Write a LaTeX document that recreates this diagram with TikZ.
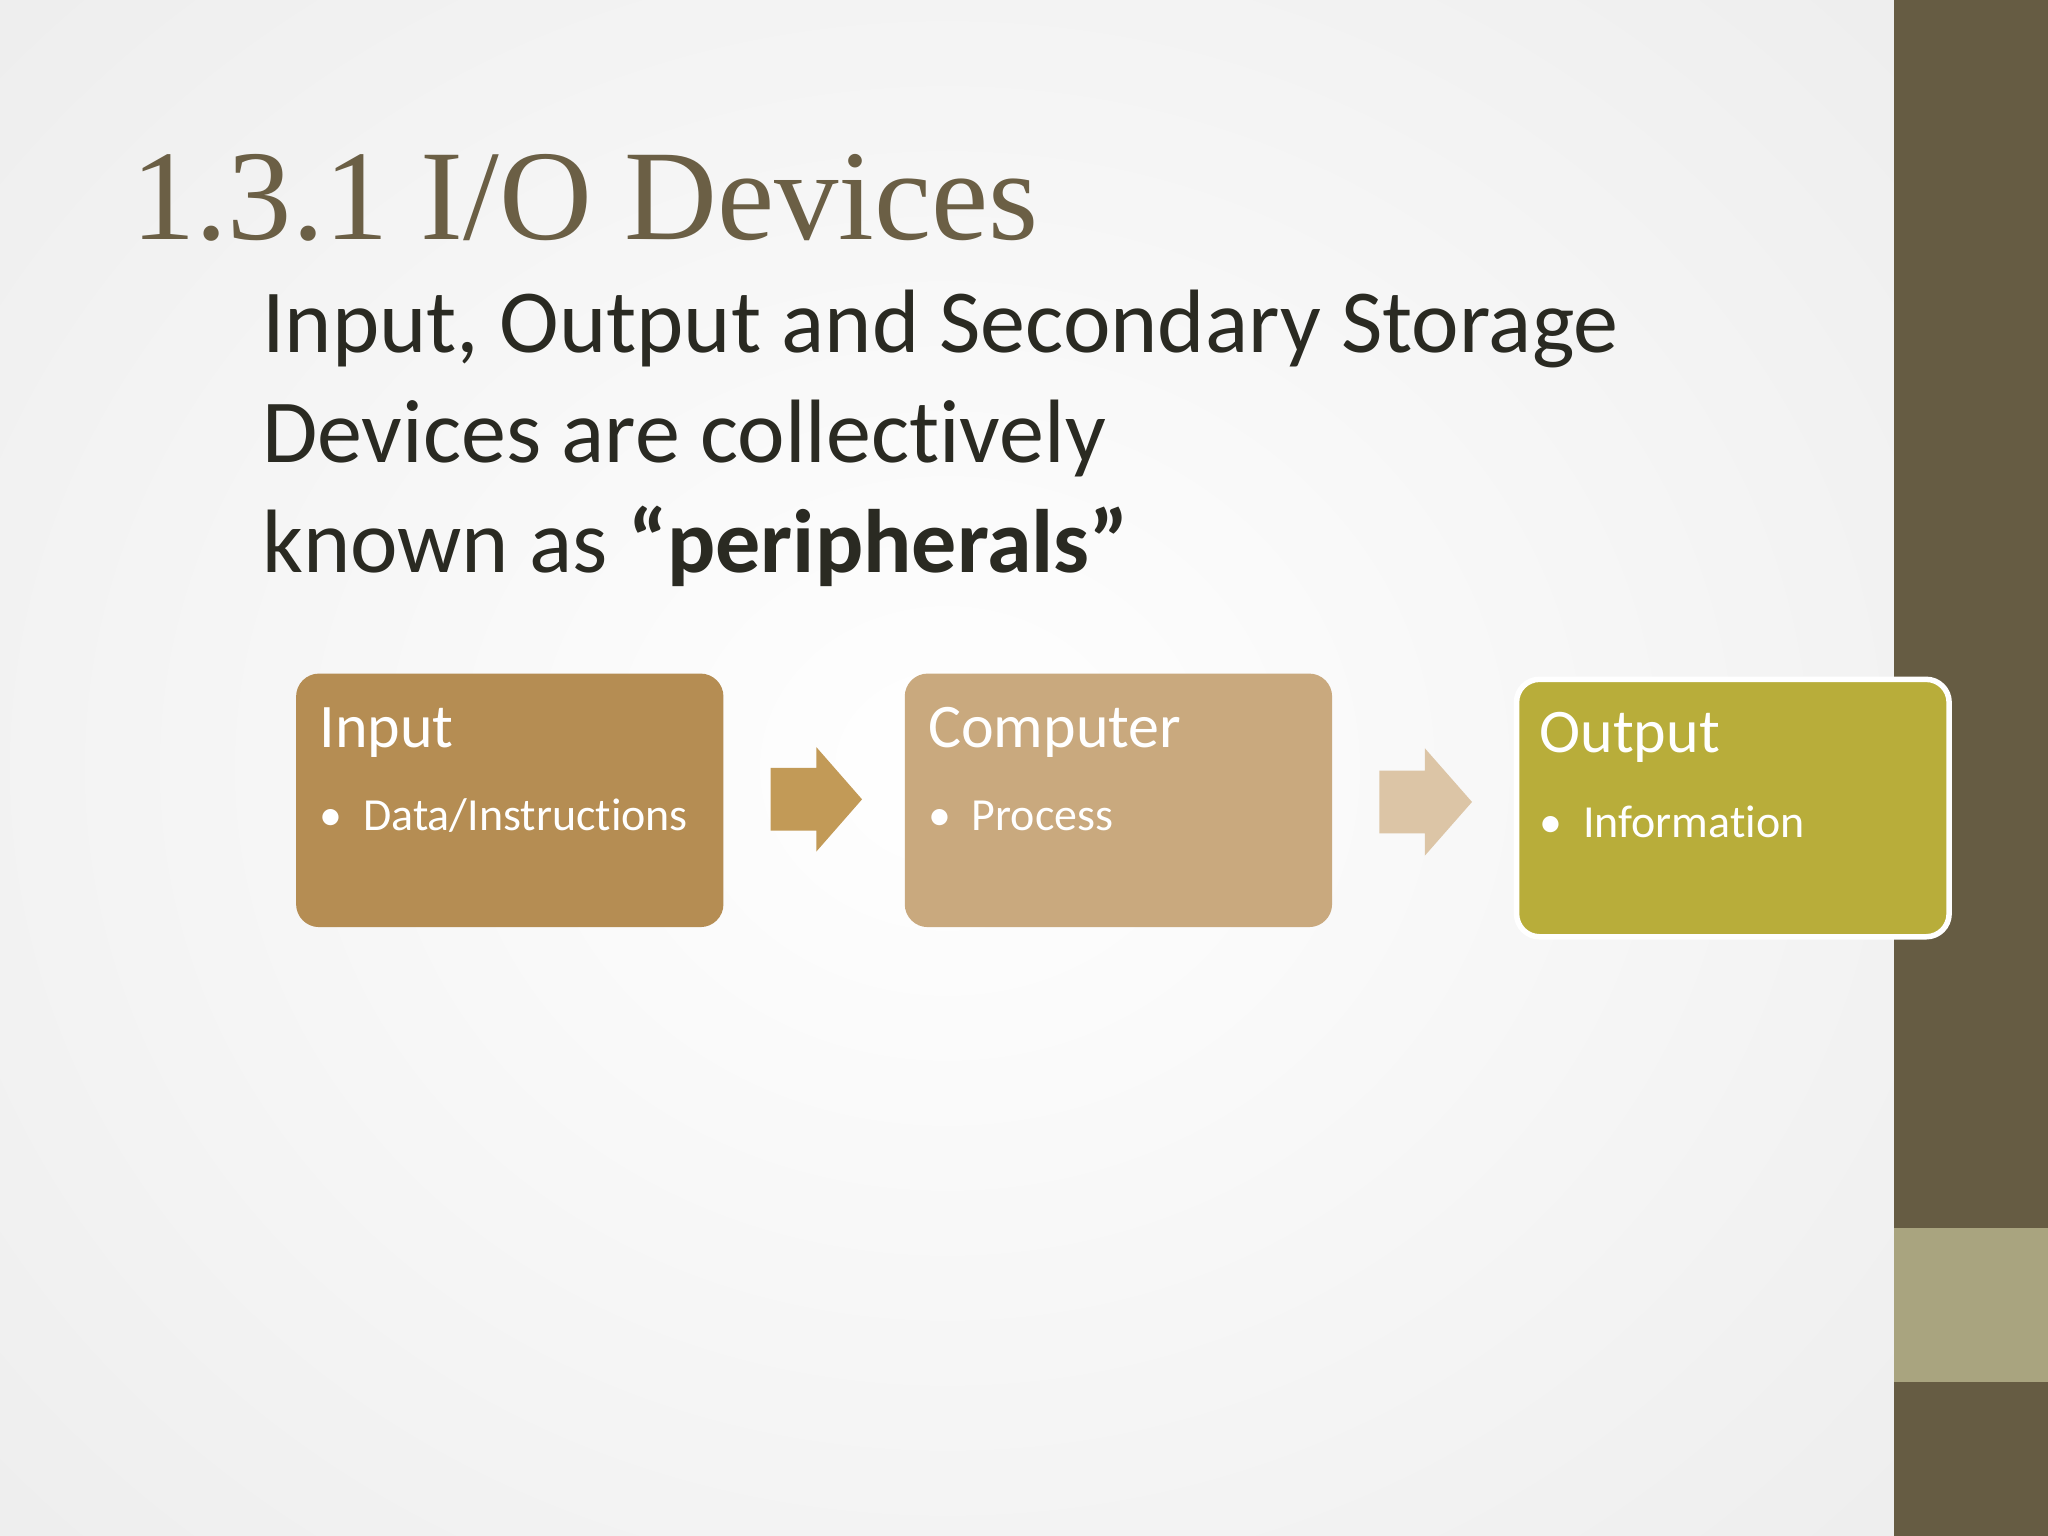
\documentclass[tikz,border=0pt]{standalone}
\usepackage{fontspec}
\setmainfont{Carlito}[Ligatures=NoCommon]
\newfontfamily\titlefont{Liberation Serif}
\definecolor{bar}{HTML}{665C43}
\definecolor{barlight}{HTML}{A9A47F}
\definecolor{titlec}{HTML}{6B5F45}
\definecolor{txt}{HTML}{2A2A22}
\definecolor{cin}{HTML}{B58D53}
\definecolor{ccomp}{HTML}{C9A97E}
\definecolor{cout}{HTML}{B8AD3A}
\definecolor{arA}{HTML}{C29A57}
\definecolor{arB}{HTML}{DCC5A6}
\tikzset{
  boxc/.style={rounded corners=5, anchor=north west, minimum width=3.27cm, minimum height=1.94cm},
  head/.style={anchor=base west, text=white, font=\fontsize{13.5}{15}\selectfont},
  item/.style={anchor=base west, text=white, font=\fontsize{10}{12}\selectfont},
  body/.style={anchor=base west, text=txt, font=\fontsize{19.6}{22}\selectfont},
}
\begin{document}
\begin{tikzpicture}[x=0.01cm,y=-0.01cm]
\useasboundingbox (0,0) rectangle (1568,1176);
\shade[inner color=white, outer color=gray!14] (-300,-300) rectangle (1750,1476);
\fill[bar] (1450,0) rectangle (1568,1176);
\fill[barlight] (1450,940) rectangle (1568,1058);
\node[anchor=base west, text=titlec, inner sep=0, font=\titlefont\fontsize{28}{32}\selectfont] (title) at (100,183) {1.3.1 I/O Devices};
\node[body, inner sep=0] (l1) at (200,270) {Input, Output and Secondary Storage};
\node[body, inner sep=0] (l2) at (200,354) {Devices are collectively};
\node[body, inner sep=0] (l3) at (200,438) {known as \textbf{“peripherals”}};
\node[boxc, fill=cin] (in) at (226,515) {};
\node[boxc, fill=ccomp] (cp) at (692,515) {};
\node[boxc, fill=cout, draw=white, line width=1.2pt, minimum width=3.31cm, minimum height=1.97cm] (out) at (1159,518) {};
\node[head, inner sep=0] (inh) at (244,572) {Input};
\node[item, inner sep=0] (ini) at (244,636) {\textbullet\ \ Data/Instructions};
\node[head, inner sep=0] (cph) at (710,572) {Computer};
\node[item, inner sep=0] (cpi) at (710,636) {\textbullet\ \ Process};
\node[head, inner sep=0] (outh) at (1178,576) {Output};
\node[item, inner sep=0] (outi) at (1178,641) {\textbullet\ \ Information};
\fill[arA] (590,588) -- (625,588) -- (625,572) -- (660,612) -- (625,652) -- (625,636) -- (590,636) -- cycle;
\fill[arB] (1056,590) -- (1091,590) -- (1091,573) -- (1127,614) -- (1091,655) -- (1091,638) -- (1056,638) -- cycle;
\end{tikzpicture}
\end{document}
